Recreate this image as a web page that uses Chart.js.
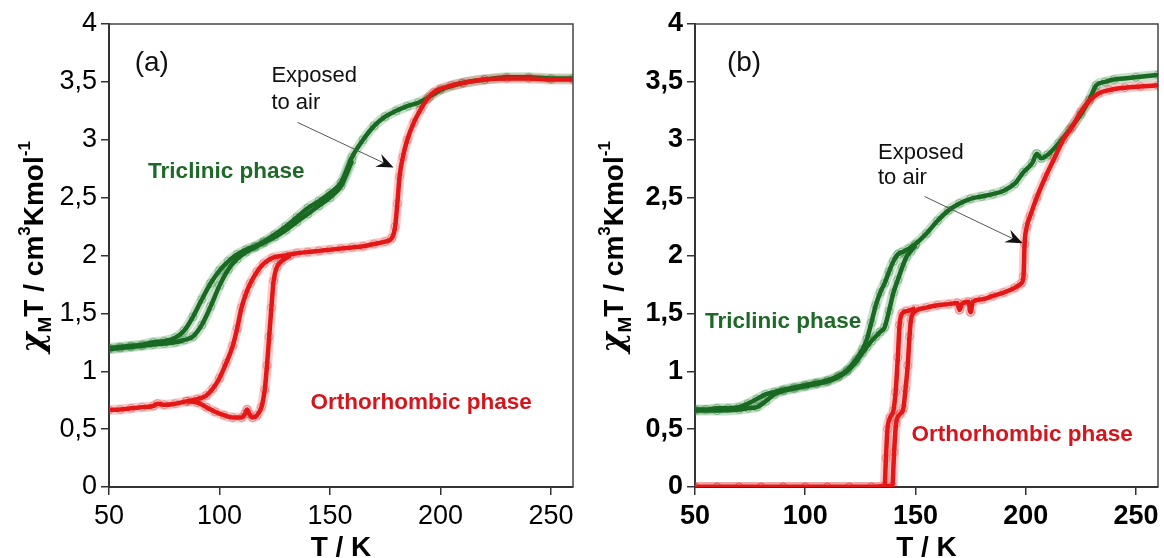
<!DOCTYPE html>
<html><head><meta charset="utf-8">
<script src="https://cdn.jsdelivr.net/npm/chart.js@4/dist/chart.umd.min.js"></script>
<style>
html,body{margin:0;padding:0;background:#fff;}
#wrap{position:relative;width:1164px;height:558px;overflow:hidden;}
.c{position:absolute;top:0;width:582px;height:558px;}
</style></head><body>
<div id="wrap"><div class="c" style="left:0"><canvas id="ca" width="582" height="558"></canvas></div><div class="c" style="left:582px"><canvas id="cb" width="582" height="558"></canvas></div></div>
<script>
// ---- tick labels ----
const xTicks=[50,100,150,200,250];
const yTicks=[0,0.5,1,1.5,2,2.5,3,3.5,4];
const yTickLabels=['0','0,5','1','1,5','2','2,5','3','3,5','4'];

// ---- panel (a) ----
const aGrUpT=[50,55,60,65,70,75,80,84,88,92,96,100,104,108,112,116,120,125,130,135,140,145,150,155,160,165,170,175,180,185,190,195,200,210,220,230,240,250,260];
const aGrUpV=[1.20,1.21,1.22,1.23,1.25,1.26,1.29,1.35,1.47,1.62,1.76,1.87,1.95,2.01,2.05,2.08,2.12,2.18,2.25,2.33,2.41,2.47,2.54,2.63,2.85,3.00,3.12,3.20,3.25,3.29,3.32,3.37,3.43,3.49,3.52,3.54,3.54,3.53,3.53];
const aGrLoT=[50,55,60,65,70,75,80,84,88,92,96,100,104,108,112,116,120,125,130,135,140,145,150,155,160];
const aGrLoV=[1.19,1.20,1.21,1.22,1.23,1.24,1.25,1.27,1.30,1.40,1.56,1.74,1.88,1.97,2.03,2.07,2.11,2.16,2.22,2.29,2.36,2.43,2.50,2.60,2.82];
const aRdUpT=[50,55,60,65,70,72,75,80,85,90,94,97,100,103,106,108,110,112,114,117,120,124,130,135,140,145,150,155,160,165,170,175,178,179.5,180.5,181.5,183,185,188,191,194,197,200,205,210,220,230,240,250,260];
const aRdUpV=[0.665,0.67,0.68,0.69,0.70,0.72,0.71,0.72,0.74,0.76,0.79,0.85,0.94,1.07,1.22,1.37,1.55,1.67,1.76,1.86,1.93,1.98,2.00,2.02,2.03,2.04,2.05,2.06,2.07,2.08,2.10,2.12,2.15,2.25,2.45,2.68,2.85,3.00,3.15,3.26,3.35,3.41,3.44,3.47,3.49,3.52,3.53,3.53,3.52,3.52];
const aRdLoT=[85,90,94,98,102,106,110,111.5,112.5,113.5,115,117,119,120.5,121.5,122.5,123.5,124.5,126,128,132];
const aRdLoV=[0.74,0.73,0.69,0.65,0.62,0.60,0.60,0.63,0.67,0.63,0.60,0.62,0.69,0.84,1.05,1.30,1.55,1.78,1.90,1.95,2.00];

// ---- panel (b) ----
const bGrUpT=[50,55,60,65,70,74,78,82,86,90,95,100,105,110,115,119,123,126,128,130,132,134,136,138,140,142,144,147,150,155,160,165,170,175,180,185,190,195,199,203,205,207,210,215,220,225,229,232,236,240,250,260];
const bGrUpV=[0.67,0.67,0.68,0.68,0.69,0.72,0.76,0.80,0.82,0.84,0.86,0.88,0.90,0.92,0.96,1.01,1.10,1.19,1.28,1.42,1.57,1.68,1.76,1.86,1.95,2.01,2.03,2.06,2.10,2.19,2.30,2.39,2.45,2.49,2.51,2.53,2.56,2.62,2.72,2.80,2.88,2.84,2.87,2.97,3.09,3.22,3.35,3.47,3.50,3.52,3.54,3.56];
const bGrLoT=[50,60,70,74,78,82,86,90,95,100,105,110,115,119,123,126,128,130,132,134,136,138,140,142,144,146,148,150];
const bGrLoV=[0.66,0.66,0.67,0.68,0.69,0.74,0.80,0.83,0.85,0.87,0.89,0.91,0.95,1.00,1.08,1.16,1.21,1.26,1.30,1.34,1.38,1.52,1.68,1.79,1.90,1.99,2.04,2.09];
const bRdLT=[50,60,70,80,90,100,110,120,130,136,136.6,137.3,138.5,140,141,142,142.8,144,146,150];
const bRdLV=[0,0,0,0,0,0,0,0,0,0.01,0.25,0.50,0.60,0.66,0.82,1.12,1.40,1.50,1.52,1.54];
const bRdRT=[50,60,70,80,90,100,110,120,130,139.5,140.3,141.2,143,144.5,145.5,146.5,147.3,148,150,155,160,165,169,170,171,174,175,176,180,185,190,195,198,199,199.5,200.5,202,205,209,213,217,221,225,229,233,238,245,252,260];
const bRdRV=[0,0,0,0,0,0,0,0,0,0.01,0.30,0.55,0.63,0.68,0.85,1.05,1.30,1.45,1.52,1.55,1.57,1.58,1.59,1.53,1.58,1.60,1.51,1.60,1.62,1.65,1.68,1.72,1.76,1.82,2.10,2.25,2.34,2.50,2.68,2.84,3.00,3.11,3.24,3.34,3.40,3.43,3.45,3.46,3.47];

const GREEN='rgb(25,105,35)', GREEN_H='rgba(40,130,50,0.26)', GREEN_P='rgba(40,130,50,0.55)';
const RED='rgb(228,22,22)', RED_H='rgba(230,40,40,0.24)', RED_P='rgba(220,40,40,0.5)';
const FONT='"Liberation Sans", Arial, sans-serif';

function pts(T,V){return T.map((t,i)=>({x:t,y:V[i]}));}
function branch(T,V,col,halo,pcol,ord){
  return [
    {data:pts(T,V),borderColor:halo,borderWidth:10,pointRadius:4,pointBorderWidth:0.8,pointBorderColor:pcol,pointBackgroundColor:'rgba(0,0,0,0)',cubicInterpolationMode:'monotone',fill:false,order:ord+10},
    {data:pts(T,V),borderColor:col,borderWidth:4.5,pointRadius:0,cubicInterpolationMode:'monotone',fill:false,order:ord}
  ];
}

function decoPlugin(d){
  return {id:'deco',afterDraw(chart){
    const ctx=chart.ctx,a=chart.chartArea,xs=chart.scales.x,ys=chart.scales.y;
    ctx.save();
    // frame top/right
    ctx.strokeStyle='#444';ctx.lineWidth=1.5;
    ctx.beginPath();ctx.moveTo(a.left,a.top);ctx.lineTo(a.right,a.top);ctx.lineTo(a.right,a.bottom);ctx.stroke();
    // texts
    for(const t of d.texts){
      ctx.font=t.font;ctx.fillStyle=t.color;ctx.textAlign='left';ctx.textBaseline='middle';
      ctx.fillText(t.text,xs.getPixelForValue(t.x),ys.getPixelForValue(t.y));
    }
    // arrow
    const x1=xs.getPixelForValue(d.arrow[0]),y1=ys.getPixelForValue(d.arrow[1]);
    const x2=xs.getPixelForValue(d.arrow[2]),y2=ys.getPixelForValue(d.arrow[3]);
    const ang=Math.atan2(y2-y1,x2-x1);
    ctx.strokeStyle='#555';ctx.lineWidth=1;
    ctx.beginPath();ctx.moveTo(x1,y1);ctx.lineTo(x2-8*Math.cos(ang),y2-8*Math.sin(ang));ctx.stroke();
    ctx.translate(x2,y2);ctx.rotate(ang);
    ctx.fillStyle='#111';ctx.beginPath();
    ctx.moveTo(0,0);ctx.lineTo(-17,-7);ctx.lineTo(-11,0);ctx.lineTo(-17,7);ctx.closePath();ctx.fill();
    ctx.setTransform(1,0,0,1,0,0);
    // x title
    ctx.fillStyle='#000';ctx.font='bold 28px '+FONT;ctx.textAlign='center';ctx.textBaseline='alphabetic';
    ctx.fillText('T / K',(a.left+a.right)/2,556);
    // y title (rotated, with sub/superscripts)
    const runs=[
      {t:'\u03C7',f:'italic bold 31px "DejaVu Serif", serif',dy:0},
      {t:'M',f:'bold 19px '+FONT,dy:8},
      {t:'T / cm',f:'bold 28px '+FONT,dy:0},
      {t:'3',f:'bold 17px '+FONT,dy:-13},
      {t:'Kmol',f:'bold 28px '+FONT,dy:0},
      {t:'-1',f:'bold 17px '+FONT,dy:-13}
    ];
    let tot=0;for(const r of runs){ctx.font=r.f;r.w=ctx.measureText(r.t).width;tot+=r.w;}
    ctx.translate(d.yTitleX,d.yTitleY);ctx.rotate(-Math.PI/2);
    ctx.textAlign='left';ctx.textBaseline='alphabetic';ctx.fillStyle='#000';
    let px=-tot/2;
    for(const r of runs){ctx.font=r.f;ctx.fillText(r.t,px,r.dy);px+=r.w;}
    ctx.restore();
  }};
}

function makeChart(id,datasets,bold,padL,padR,yW,deco){
  const tf={family:FONT,size:27,weight:bold?'bold':'normal'};
  return new Chart(document.getElementById(id),{
    type:'line',
    data:{datasets},
    options:{
      responsive:false,animation:false,devicePixelRatio:1,
      layout:{padding:{left:padL,right:padR,top:24,bottom:0}},
      plugins:{legend:{display:false},tooltip:{enabled:false}},
      scales:{
        x:{type:'linear',min:50,max:260,
          afterBuildTicks:s=>{s.ticks=xTicks.map(v=>({value:v}));},
          afterFit:s=>{s.height=71;},
          grid:{display:true,drawOnChartArea:false,drawTicks:true,tickLength:8,color:'#333',lineWidth:1.5},
          border:{display:true,color:'#333',width:2},
          ticks:{font:tf,color:'#000',padding:5,maxRotation:0,autoSkip:false}},
        y:{type:'linear',min:0,max:4,
          afterBuildTicks:s=>{s.ticks=yTicks.map(v=>({value:v}));},
          afterFit:s=>{s.width=yW;},
          grid:{display:true,drawOnChartArea:false,drawTicks:true,tickLength:8,color:'#333',lineWidth:1.5},
          border:{display:true,color:'#333',width:2},
          ticks:{font:tf,color:'#000',padding:4,autoSkip:false,
            callback:(v)=>{const i=yTicks.indexOf(v);return i>=0?yTickLabels[i]:'';}}}
      }
    },
    plugins:[decoPlugin(deco)]
  });
}

const dsA=[].concat(
  branch(aGrUpT,aGrUpV,GREEN,GREEN_H,GREEN_P,2),
  branch(aGrLoT,aGrLoV,GREEN,GREEN_H,GREEN_P,2),
  branch(aRdUpT,aRdUpV,RED,RED_H,RED_P,1),
  branch(aRdLoT,aRdLoV,RED,RED_H,RED_P,1)
);
const dsB=[].concat(
  branch(bGrUpT,bGrUpV,GREEN,GREEN_H,GREEN_P,2),
  branch(bGrLoT,bGrLoV,GREEN,GREEN_H,GREEN_P,2),
  branch(bRdLT,bRdLV,RED,RED_H,RED_P,1),
  branch(bRdRT,bRdRV,RED,RED_H,RED_P,1)
);

const TXT_G='rgb(30,105,40)', TXT_R='rgb(214,20,28)';
makeChart('ca',dsA,false,0,9,109,{
  texts:[
    {text:'(a)',x:61.6,y:3.66,font:'28px '+FONT,color:'#111'},
    {text:'Exposed',x:123.5,y:3.55,font:'22px '+FONT,color:'#111'},
    {text:'to air',x:123.5,y:3.32,font:'22px '+FONT,color:'#111'},
    {text:'Triclinic phase',x:67.7,y:2.72,font:'bold 22.5px '+FONT,color:TXT_G},
    {text:'Orthorhombic phase',x:141.2,y:0.73,font:'bold 22.5px '+FONT,color:TXT_R}
  ],
  arrow:[135.3,3.15,178.8,2.76],
  yTitleX:43,yTitleY:247
});
makeChart('cb',dsB,true,0,6,113,{
  texts:[
    {text:'(b)',x:64.5,y:3.66,font:'28px '+FONT,color:'#111'},
    {text:'Exposed',x:133.0,y:2.89,font:'22px '+FONT,color:'#111'},
    {text:'to air',x:133.0,y:2.67,font:'22px '+FONT,color:'#111'},
    {text:'Triclinic phase',x:54.5,y:1.43,font:'bold 22.5px '+FONT,color:TXT_G},
    {text:'Orthorhombic phase',x:148.2,y:0.45,font:'bold 22.5px '+FONT,color:TXT_R}
  ],
  arrow:[154.1,2.51,198.6,2.105],
  yTitleX:41,yTitleY:247
});
</script>
</body></html>
